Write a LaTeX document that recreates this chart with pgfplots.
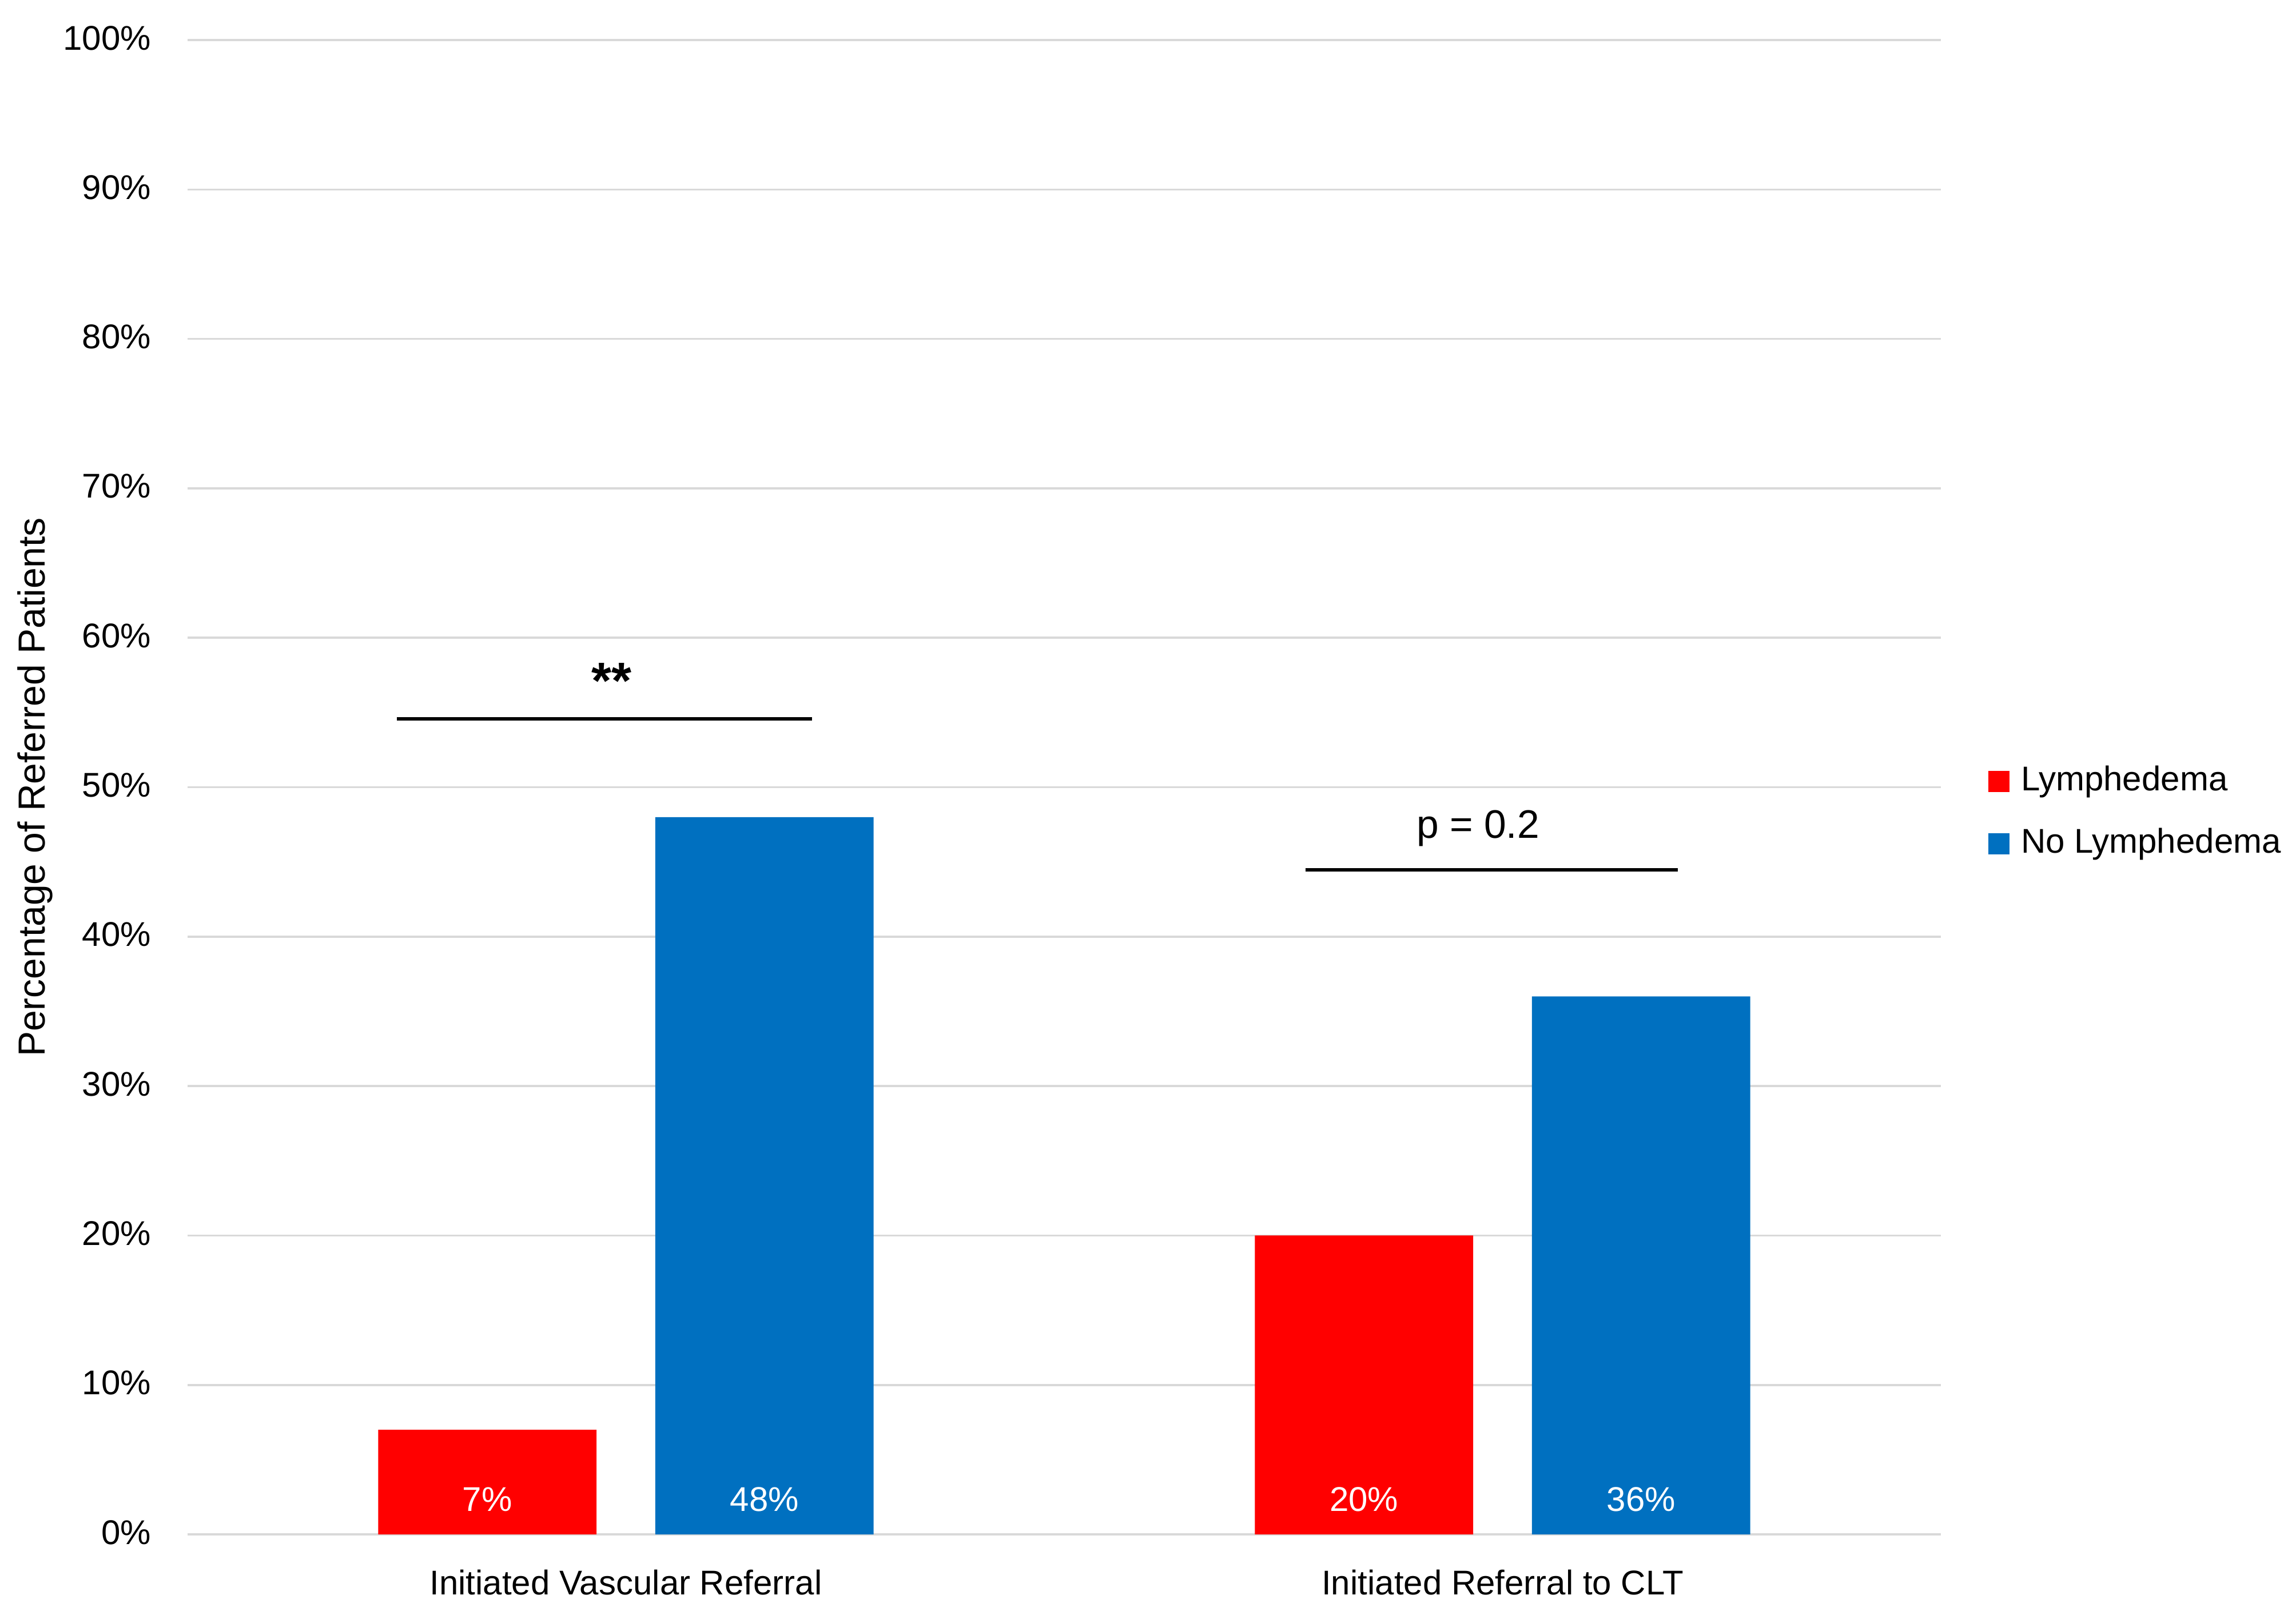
\documentclass[border=0pt]{standalone}
\usepackage{fontspec}
\setmainfont{Liberation Sans}
\usepackage{pgfplots}
\pgfplotsset{compat=1.18}
\definecolor{lyred}{HTML}{FF0000}
\definecolor{lyblue}{HTML}{0070C0}
\definecolor{gridgray}{HTML}{D9D9D9}
\pgfplotsset{sqlegend/.style={legend image code/.code={\fill[##1] (0pt,-3.3pt) rectangle (6.2pt,2.9pt);}}}
\begin{document}
\begin{tikzpicture}
\path[use as bounding box] (0,0) rectangle (669.17pt,471.67pt);
\begin{axis}[
  at={(54.67pt,24.5pt)}, anchor=south west,
  scale only axis, width=511pt, height=435.5pt,
  xmin=0, xmax=2, ymin=0, ymax=100,
  axis line style={draw=none},
  ymajorgrids, major grid style={draw=gridgray, line width=0.6pt},
  tick style={draw=none}, major tick length=0pt,
  xtick={0.5,1.5},
  xticklabels={Initiated Vascular Referral, Initiated Referral to CLT},
  ytick={0,10,...,100},
  /pgf/number format/assume math mode=true,
  yticklabel={\pgfmathprintnumber{\tick}\%},
  yticklabel style={anchor=east, inner sep=0pt, xshift=-10.5pt, yshift=0.6pt, font=\fontsize{10}{12}\selectfont},
  xticklabel style={anchor=base, inner sep=0pt, yshift=-17.5pt, font=\fontsize{10}{12}\selectfont},
  ylabel={Percentage of Referred Patients},
  ylabel style={at={(axis description cs:-0.0815,0.5)}, anchor=base, inner sep=0pt, font=\fontsize{11}{13}\selectfont},
  legend style={at={(1.0267,0.4835)}, anchor=west, draw=none, fill=none, inner sep=0pt,
    font=\fontsize{10}{12}\selectfont, row sep=9.4pt, column sep=3.3pt, nodes={inner sep=0pt}},
  legend cell align=left,
  nodes near coords={\pgfmathprintnumber{\pgfplotspointmeta}\%},
  visualization depends on={rawy \as \rawy},
  nodes near coords style={text=white, anchor=base, inner sep=0pt, font=\fontsize{10}{12}\selectfont, yshift={6.7pt-\rawy*4.355pt}},
]
\addplot[ybar, fill=lyred, draw=none, bar width=0.249, bar shift=-0.158, sqlegend,
  every node near coord/.append style={xshift=-40.4pt}]
  coordinates {(0.5,7) (1.5,20)};
\addlegendentry{Lymphedema}
\addplot[ybar, fill=lyblue, draw=none, bar width=0.249, bar shift=0.158, sqlegend,
  every node near coord/.append style={xshift=40.4pt}]
  coordinates {(0.5,48) (1.5,36)};
\addlegendentry{No Lymphedema}
\draw[black, line width=1pt] (axis cs:0.239,54.57) -- (axis cs:0.712,54.57);
\node[anchor=base, inner sep=0pt, font=\bfseries\fontsize{15}{17}\selectfont] at (axis cs:0.484,55.95) {**};
\draw[black, line width=1pt] (axis cs:1.275,44.47) -- (axis cs:1.700,44.47);
\node[anchor=base, inner sep=0pt, font=\fontsize{11.6}{14}\selectfont] at (axis cs:1.472,46.61) {p = 0.2};
\end{axis}
\end{tikzpicture}
\end{document}
